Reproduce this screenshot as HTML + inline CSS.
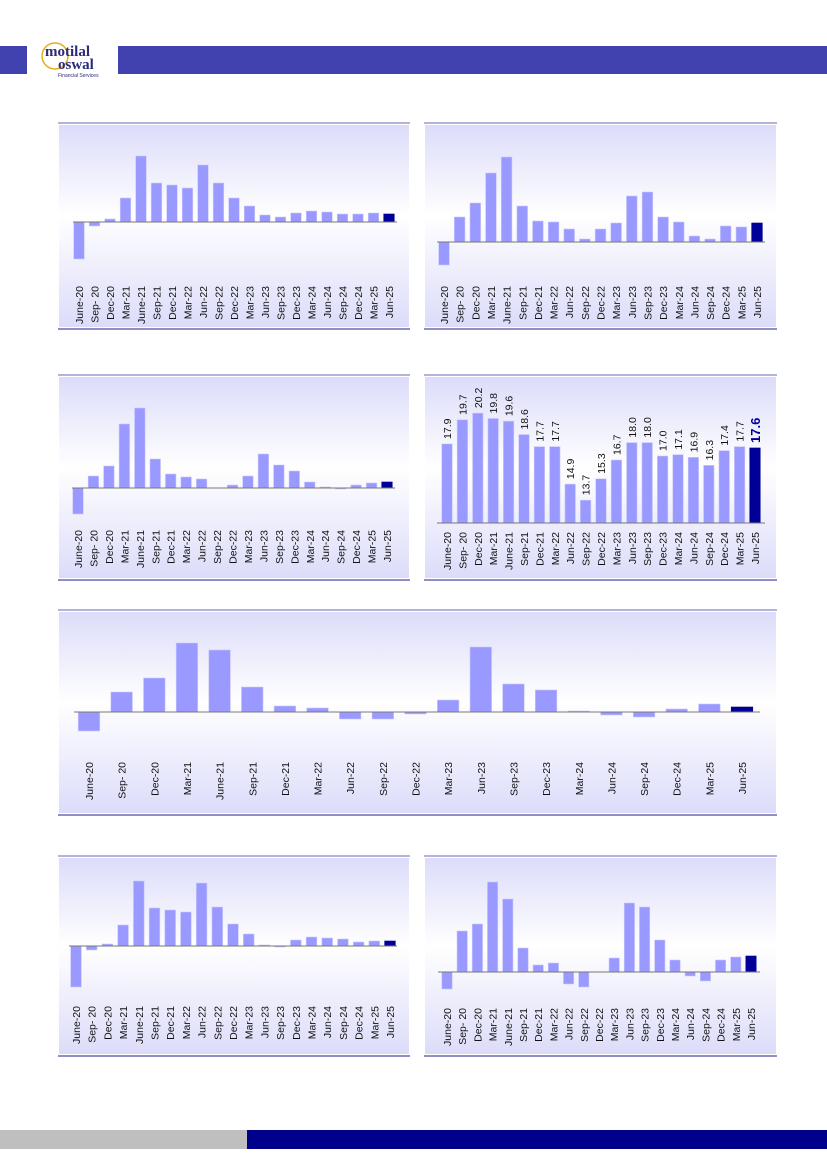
<!DOCTYPE html>
<html><head><meta charset="utf-8"><style>
html,body{margin:0;padding:0;background:#fff;width:827px;height:1169px;overflow:hidden;font-family:"Liberation Sans",sans-serif}
</style></head><body>
<svg id="s" width="827" height="1169" xmlns="http://www.w3.org/2000/svg" style="position:absolute;left:0;top:0">
<defs>
<linearGradient id="g" x1="0" y1="0" x2="0" y2="1">
<stop offset="0" stop-color="#dcdcfa"/><stop offset="0.45" stop-color="#ffffff"/><stop offset="1" stop-color="#dcdcfa"/>
</linearGradient>
</defs>
<rect x="0" y="46" width="27" height="28" fill="#4141b0"/>
<rect x="118" y="46" width="709" height="28" fill="#4141b0"/>
<circle cx="55" cy="56" r="13" fill="none" stroke="#e0b020" stroke-width="1.5"/>
<text x="45" y="56" font-family="Liberation Serif,serif" font-weight="bold" font-size="15" fill="#2b2b7a">motilal</text>
<text x="58" y="69" font-family="Liberation Serif,serif" font-weight="bold" font-size="15" fill="#2b2b7a">oswal</text>
<text x="58" y="77" font-size="5" fill="#2b2b7a">Financial Services</text>
<rect x="0" y="1130" width="247" height="19" fill="#bfbfbf"/>
<rect x="247" y="1130" width="580" height="19" fill="#00008b"/>
<g id="c"></g>
</svg>
<script>
var L=["June-20","Sep- 20","Dec-20","Mar-21","June-21","Sep-21","Dec-21","Mar-22","Jun-22","Sep-22","Dec-22","Mar-23","Jun-23","Sep-23","Dec-23","Mar-24","Jun-24","Sep-24","Dec-24","Mar-25","Jun-25"];
var v4=[17.9,19.7,20.2,19.8,19.6,18.6,17.7,17.7,14.9,13.7,15.3,16.7,18.0,18.0,17.0,17.1,16.9,16.3,17.4,17.7,17.6];
var C=[
{x0:58,x1:410,y0:123,y1:329,base:222,f:79,l:389,lab:286,lx0:73,lx1:397,h:[-37,-4,3,24,66,39,37,34,57,39,24,16,7,5,9,11,10,8,8,9,8]},
{x0:424,x1:777,y0:123,y1:329,base:242,f:444,l:757,lab:286,lx0:437,lx1:765,h:[-23,25,39,69,85,36,21,20,13,3,13,19,46,50,25,20,6,3,16,15,19]},
{x0:58,x1:410,y0:375,y1:580,base:488,f:78,l:387,lab:530,lx0:72,lx1:395,h:[-26,12,22,64,80,29,14,11,9,0,3,12,34,23,17,6,1,-1,3,5,6]},
{x0:424,x1:777,y0:375,y1:580,base:523,f:447,l:755,lab:532,lx0:437,lx1:765,h:v4.map(function(v){return (v-12)*13.4}),vals:1},
{x0:58,x1:777,y0:610,y1:815,base:712,f:89,l:742,lab:762,lx0:74,lx1:760,h:[-19,20,34,69,62,25,6,4,-7,-7,-2,12,65,28,22,1,-3,-5,3,8,5],wide:1},
{x0:58,x1:410,y0:856,y1:1056,base:946,f:76,l:390,lab:1006,lx0:69,lx1:397,h:[-41,-4,2,21,65,38,36,34,63,39,22,12,1,-1,6,9,8,7,4,5,5]},
{x0:424,x1:777,y0:856,y1:1056,base:972,f:447,l:751,lab:1008,lx0:438,lx1:760,h:[-17,41,48,90,73,24,7,9,-12,-15,0,14,69,65,32,12,-4,-9,12,15,16]}
];
var o="";
C.forEach(function(c){
 o+='<rect x="'+(c.x0+1)+'" y="'+(c.y0+2)+'" width="'+(c.x1-c.x0-2)+'" height="'+(c.y1-c.y0-4)+'" fill="url(#g)"/>';
 o+='<line x1="'+c.x0+'" y1="'+c.y0+'" x2="'+c.x1+'" y2="'+c.y0+'" stroke="#9a9ad0" stroke-width="1.5"/>';
 o+='<line x1="'+c.x0+'" y1="'+c.y1+'" x2="'+c.x1+'" y2="'+c.y1+'" stroke="#6a6ab0" stroke-width="1.5"/>';
 var sp=(c.l-c.f)/20, bw=sp*(c.wide?0.66:0.68);
 c.h.forEach(function(h,i){
  var cx=c.f+i*sp, last=i==20;
  var y=h>=0?c.base-h:c.base, hh=Math.abs(h);
  o+='<rect x="'+(cx-bw/2)+'" y="'+y+'" width="'+bw+'" height="'+hh+'" fill="'+(last?'#000099':'#9999ff')+'" stroke="'+(last?'#000099':'#c8c8ff')+'" stroke-width="0.6"/>';
  o+='<text transform="translate('+(cx+4)+','+c.lab+') rotate(-90)" text-anchor="end" font-size="10.5" fill="#111">'+L[i]+'</text>';
  if(c.vals){
   o+='<text transform="translate('+(cx+(last?5:4))+','+(y-5)+') rotate(-90)" font-size="'+(last?13:10.5)+'" '+(last?'font-weight="bold" fill="#000099"':'fill="#111"')+'>'+v4[i].toFixed(1)+'</text>';
  }
 });
 o+='<line x1="'+c.lx0+'" y1="'+c.base+'" x2="'+c.lx1+'" y2="'+c.base+'" stroke="#777" stroke-width="1"/>';
});
document.getElementById("c").innerHTML=o;
</script>
</body></html>
